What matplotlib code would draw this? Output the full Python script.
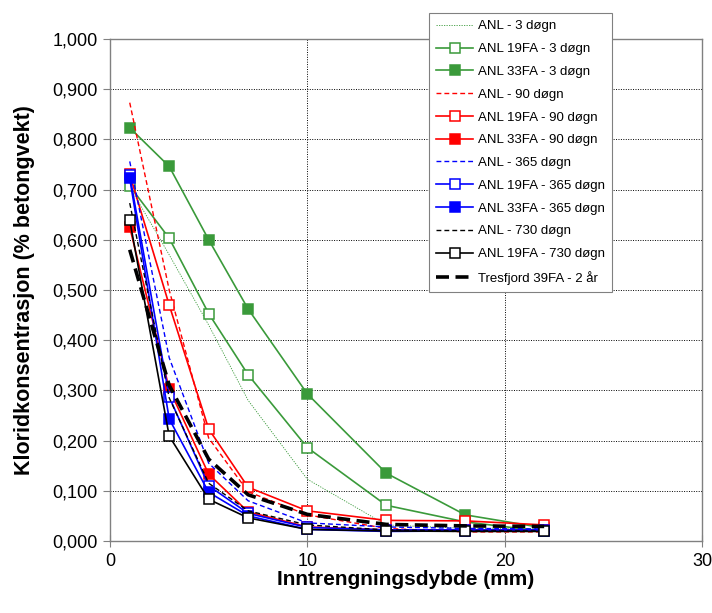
import matplotlib
matplotlib.use("Agg")
import matplotlib.pyplot as plt
from matplotlib.ticker import FuncFormatter, MultipleLocator

plt.rcParams['font.family'] = ['Liberation Sans', 'DejaVu Sans']

# Inntrengningsdybde (mm)
dybde = [1, 3, 5, 7, 10, 14, 18, 22]

# Kloridkonsentrasjon (% av betongvekt)
anl_3 = [0.705, 0.570, 0.430, 0.280, 0.123, 0.032, 0.025, 0.025]
anl19_3 = [0.707, 0.603, 0.453, 0.331, 0.186, 0.071, 0.038, 0.019]
anl33_3 = [0.823, 0.746, 0.600, 0.462, 0.293, 0.135, 0.052, 0.026]
anl_90 = [0.873, 0.500, 0.205, 0.098, 0.052, 0.025, 0.018, 0.018]
anl19_90 = [0.730, 0.470, 0.223, 0.107, 0.060, 0.041, 0.040, 0.032]
anl33_90 = [0.625, 0.303, 0.133, 0.058, 0.028, 0.022, 0.022, 0.022]
anl_365 = [0.756, 0.365, 0.155, 0.080, 0.036, 0.028, 0.025, 0.024]
anl19_365 = [0.728, 0.287, 0.110, 0.055, 0.027, 0.022, 0.022, 0.022]
anl33_365 = [0.722, 0.243, 0.097, 0.050, 0.023, 0.019, 0.020, 0.020]
anl_730 = [0.673, 0.285, 0.115, 0.060, 0.032, 0.022, 0.020, 0.020]
anl19_730 = [0.639, 0.209, 0.083, 0.046, 0.023, 0.020, 0.019, 0.019]
tresfjord = [0.580, 0.310, 0.163, 0.092, 0.053, 0.033, 0.030, 0.029]

GREEN = '#3a9a3a'
RED = '#ff0000'
BLUE = '#0000ff'
BLACK = '#000000'

fig = plt.figure(figsize=(7.12, 6.13), dpi=100)
ax = fig.add_axes([0.1545, 0.1175, 0.8315, 0.8190])

dash = (0, (3.5, 2.2))
ms = 6.5

def open_sq(color, label, y):
    ax.plot(dybde, y, color=color, lw=1.2, marker='s', ms=ms,
            mfc='white', mec=color, mew=1.1, label=label)

def filled_sq(color, label, y):
    ax.plot(dybde, y, color=color, lw=1.2, marker='s', ms=ms,
            mfc=color, mec=color, mew=1.1, label=label)

ax.plot(dybde, anl_3, color=GREEN, lw=0.6, ls=(0, (1.5, 1.5)), label='ANL - 3 døgn')
open_sq(GREEN, 'ANL 19FA - 3 døgn', anl19_3)
filled_sq(GREEN, 'ANL 33FA - 3 døgn', anl33_3)
ax.plot(dybde, anl_90, color=RED, lw=1.0, ls=dash, label='ANL - 90 døgn')
open_sq(RED, 'ANL 19FA - 90 døgn', anl19_90)
filled_sq(RED, 'ANL 33FA - 90 døgn', anl33_90)
ax.plot(dybde, anl_365, color=BLUE, lw=1.0, ls=dash, label='ANL - 365 døgn')
open_sq(BLUE, 'ANL 19FA - 365 døgn', anl19_365)
filled_sq(BLUE, 'ANL 33FA - 365 døgn', anl33_365)
ax.plot(dybde, anl_730, color=BLACK, lw=1.0, ls=dash, label='ANL - 730 døgn')
open_sq(BLACK, 'ANL 19FA - 730 døgn', anl19_730)
ax.plot(dybde, tresfjord, color=BLACK, lw=2.6, ls=(0, (3.6, 1.8)),
        label='Tresfjord 39FA - 2 år')

ax.set_xlim(0, 30)
ax.set_ylim(0, 1.0)
ax.xaxis.set_major_locator(MultipleLocator(10))
ax.yaxis.set_major_locator(MultipleLocator(0.1))
ax.yaxis.set_major_formatter(FuncFormatter(lambda v, p: f'{v:.3f}'.replace('.', ',')))

ax.grid(True, color='black', lw=0.7, ls=(0, (1, 1.5)))
ax.set_axisbelow(True)
for s in ax.spines.values():
    s.set_color('#808080')
    s.set_linewidth(1.0)
ax.tick_params(axis='y', direction='out', length=5, color='#808080', labelsize=13, pad=4)
ax.tick_params(axis='x', direction='inout', length=8, color='#808080', labelsize=13, pad=5)

ax.set_xlabel('Inntrengningsdybde (mm)', fontsize=15, fontweight='bold', labelpad=0)
ax.set_ylabel('Kloridkonsentrasjon (% betongvekt)', fontsize=15.5, fontweight='bold', labelpad=12)

leg = ax.legend(loc='upper left', bbox_to_anchor=(0.6025, 0.979),
                bbox_transform=fig.transFigure, fontsize=9.5, frameon=True,
                fancybox=False, framealpha=1, edgecolor='#808080',
                handlelength=2.8, labelspacing=0.8, borderpad=0.55,
                handletextpad=0.35, borderaxespad=0)
leg.get_frame().set_linewidth(0.8)

fig.savefig('out.png', dpi=100)
